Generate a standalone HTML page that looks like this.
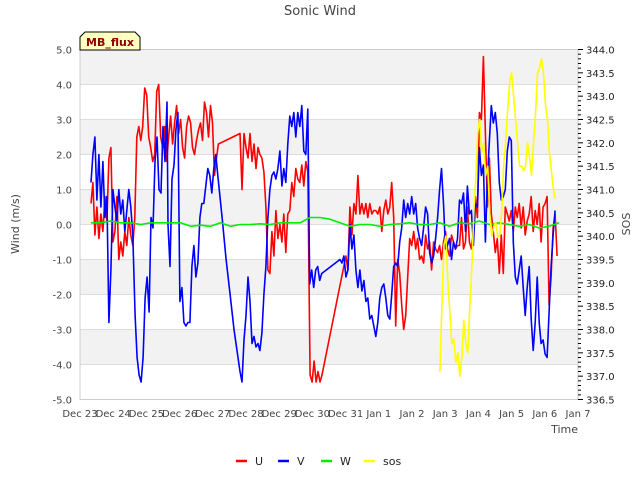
<!DOCTYPE html>
<html><head><meta charset="utf-8"><style>
body{margin:0;background:#fff;font-family:"DejaVu Sans","Liberation Sans",sans-serif}
svg text{font-family:"DejaVu Sans","Liberation Sans",sans-serif}
</style></head><body>
<svg id="chart" width="640" height="480">
<text x="320" y="15" text-anchor="middle" font-size="13" fill="#444">Sonic Wind</text>
<g id="bands"></g><g id="grid"></g>
<rect x="80" y="49.5" width="498" height="350" fill="none" stroke="#ccc"/>
<g id="series"></g><g id="axes"></g>
<text transform="translate(19,224) rotate(-90)" text-anchor="middle" font-size="11" fill="#444">Wind (m/s)</text>
<text transform="translate(630,224) rotate(-90)" text-anchor="middle" font-size="11" fill="#444">SOS</text>
<text x="578" y="433" text-anchor="end" font-size="11" fill="#444">Time</text>
<g>
<path d="M80,50 L80,37 L85,32 L135,32 L140,37 L140,50 Z" fill="#ffffc0" stroke="#000"/>
<text x="110" y="46" text-anchor="middle" font-size="11" font-weight="bold" fill="#8b0000">MB_flux</text></g>
<g id="legend"></g>
</svg>
<script>
const xTickLabels=["Dec 23","Dec 24","Dec 25","Dec 26","Dec 27","Dec 28","Dec 29","Dec 30","Dec 31","Jan 1","Jan 2","Jan 3","Jan 4","Jan 5","Jan 6","Jan 7"];
const yTicks=[-5,-4,-3,-2,-1,0,1,2,3,4,5];
const y2Ticks=[336.5,337,337.5,338,338.5,339,339.5,340,340.5,341,341.5,342,342.5,343,343.5,344];
const step=0.06;
const uSegments=[
[0.33,[0.6,1.2,-0.3,0.5,-0.4,0.3,-0.2,0.8,0.1,1.9,2.2,-0.5,-0.2,0.8,-1.0,-0.5,-0.9,-0.2,-0.6,0.2,-0.3,-0.6,0.2,2.5,2.8,2.4,2.8,3.9,3.7,2.5,2.2,1.8,2.0,3.8,4.0,2.5,2.2,2.8,1.8,2.5,3.1,2.3,2.9,3.4,2.6,3.0,2.2,1.9,2.8,3.1,2.9,2.2,2.0,2.4,2.7,2.9,2.4,3.5,3.2,2.5,3.4,2.9,1.4,1.9,2.3]],
[4.82,[2.6,1.0,2.6,2.2,1.9,2.6,1.8,2.3,1.6,2.2,2.0,1.9,1.5,0.5,-1.3,-1.4,-0.2,-0.9,0.4,-0.4,0.0,-0.5,0.3,-0.8,0.3,0.4,1.2,0.8,1.6,1.3,1.2,1.7,1.1,1.8,1.5]],
[6.93,[-4.3,-4.5,-3.9,-4.5,-4.2,-4.5,-4.3]],
[8.01,[-0.9,-1.3,0.5,-0.3,0.6,0.3,1.4,0.3,0.6,0.3,0.6,0.2,0.6,0.3,0.4,0.4,0.3,0.5,-0.2,0.4,0.7,0.3,0.5,1.2,0.2,-2.9,-1.0,-1.4,-2.3,-3.0,-2.6,-1.5,-0.4,-0.6,-0.2,-0.7,-0.4,-1.0,-0.9,-1.1,-0.3,-0.7,-0.5,-1.3,-0.5,-0.7,-0.8,-0.6,-1.0,-0.5,-0.2,-0.7,-0.9,-0.3,-0.5,-0.7,-0.6,-0.6,0.2,-0.7,-0.5,0.5,-0.5,-0.7,-0.2,0.8,0.2,3.2,3.0,4.8,2.6,0.5,1.9,0.3,-0.2,-0.8,-0.4,-1.4,-0.3,-1.4,0.5,0.3,0.1,0.4,-0.2,0.5,0.2,0.6,-0.1,0.5,-0.3,0.1,0.3,0.8,-0.2,0.4,0.0,0.6,-0.5,0.5,0.6,0.8,-2.3,-1.5,-0.1,0.3,-0.9]]];
const vSegments=[
[0.33,[1.2,2.0,2.5,0.7,2.0,0.5,1.8,0.2,0.8,-2.8,-1.3,1.0,0.5,0.1,1.0,0.3,0.7,-0.2,0.4,1.0,0.5,-0.3]],
[1.66,[-2.6,-3.8,-4.3,-4.5,-3.8,-2.1,-1.5,-2.5,0.2,-0.1,1.8,2.5,1.0,0.9,2.8,1.8,3.5]],
[2.65,[0.0,-1.2,1.3,1.7,2.7,3.2,-2.2,-1.8,-2.8,-2.9,-2.8,-2.8,-1.2,-0.6,-1.5,-1.1,0.2,0.6,0.6,1.1,1.6,1.4,0.9,1.6,2.0,1.4]],
[4.28,[0.2]],[4.40,[-1.0]],[4.52,[-2.0]],[4.64,[-3.0]],
[4.82,[-4.2,-4.5,-3.3,-2.6,-1.5,-2.2,-3.4,-3.2,-3.5,-3.4,-3.6,-3.1,-2.0,-1.2,0.2,1.0,1.4,1.5,1.3,1.6,2.1,1.1,1.6,1.2,2.3,3.1,2.8,3.2,2.5,3.2,2.8,3.4,2.1,2.0,3.3,-1.7,-1.3,-1.8,-1.3,-1.2,-1.6,-1.4]],
[7.83,[-1.0,-1.1,-0.9,-1.5,-1.3,0.0,-0.7,-0.3,-1.3,-1.8,-1.3,-1.9,-1.6,-2.2,-2.1,-2.7,-2.6,-2.9,-3.2,-2.8,-2.1,-1.8,-1.7,-2.1,-2.6,-2.7,-2.0,-1.2,-1.1,-1.2,-0.5,-0.1,0.7,0.2,0.6,0.3,0.8,0.3,0.6,-0.1,-0.4,-0.6,-0.1,0.5,0.3,-0.8,-1.1,-0.9,-0.4,0.2,1.0,1.6,0.6,-0.7,-0.6,-0.4,-1.0,-0.5,-0.7,-0.4,0.7,0.6,0.9,-0.2,1.1,0.3,0.4,-0.6,0.6,0.5,2.2,1.4,1.7,-0.5,1.3,2.4,3.4,2.9,3.2,2.6,1.2,0.7,0.8,1.0,2.1,2.5,2.4,-0.5,-1.5,-1.7,-1.3,-0.9,-1.8,-2.6,-1.8,-1.2,-2.7,-3.6,-2.8,-1.5,-2.8,-3.4,-3.3,-3.7,-3.8,-2.5,-1.2,-0.3,0.4]]];
const wStep=0.3;
const wSegments=[[0.33,[0.05,0.05,0.1,0.05,0.05,0,0.05,0.05,0.05,0.05,-0.05,-0.02,-0.05,0.05,-0.05,0,0,0.02,0,0.05,0.05,0.05,0.2,0.2,0.15,0.05,-0.05,0,0,-0.05,0,0.02,0.05,0,0,0.05,-0.05,0.05,0.02,0.1,0,0.05,0,-0.05,0,-0.1,-0.05,0.05]]];
const sosSegments=[[10.84,[337.1,338.5,339.8,340.0,339.0,338.4,337.7,337.8,337.3,337.5,337.0,337.4,338.2,337.7,337.5,338.5,339.3,340.5,341.2,342.2,342.5,341.8,342.0,341.3,341.5,340.5,340.0,340.2,340.3,340.0,340.0,340.5,341.5,342.0,342.7,343.3,343.5,343.0,342.5,342.0,341.5,341.5,341.4,341.5,342.0,341.7,341.3,342.0,342.6,343.5,343.6,343.8,343.5,342.8,342.5,341.8,341.4,341.0,340.8]]];

const NS="http://www.w3.org/2000/svg";
const X0=80,X1=578,YT=49.5,YB=399.5;
const xs=d=>X0+d*(X1-X0)/15;
const ys=v=>YB-(v+5)*(YB-YT)/10;
const ys2=v=>YB-(v-336.5)*(YB-YT)/7.5;
function mk(tag,attrs,parent){const e=document.createElementNS(NS,tag);for(const k in attrs)e.setAttribute(k,attrs[k]);parent.appendChild(e);return e;}
const bands=document.getElementById('bands'),grid=document.getElementById('grid'),axes=document.getElementById('axes'),series=document.getElementById('series'),legend=document.getElementById('legend');
for(let i=0;i<10;i++){ if(i%2===0){const r=mk('rect',{x:X0,y:ys(5-i),width:X1-X0,height:ys(4-i)-ys(5-i),fill:'#f2f2f2'},bands);

}}
yTicks.forEach(v=>{const l=mk('line',{x1:X0,x2:X1,y1:ys(v),y2:ys(v),stroke:'#ddd'},grid);


const t=mk('text',{x:X0-8,y:ys(v)+4,'text-anchor':'end','font-size':10,fill:'#444'},axes);t.textContent=v.toFixed(1);

});
for(let v=336.5;v<=344.001;v+=0.1){const major=Math.abs(v*2-Math.round(v*2))<0.01;
const l=mk('line',{x1:X1,x2:X1+(major?5:3),y1:ys2(v),y2:ys2(v),stroke:'#000'},axes);

}
y2Ticks.forEach(v=>{const t=mk('text',{x:X1+8,y:ys2(v)+4,'font-size':10,fill:'#222'},axes);t.textContent=v.toFixed(1);

});
xTickLabels.forEach((s,i)=>{const t=mk('text',{x:xs(i),y:417,'text-anchor':'middle','font-size':10,fill:'#444'},axes);t.textContent=s;

});
function draw(segs,st,yf,color,name){const pts=[];segs.forEach(([s,vals])=>vals.forEach((v,i)=>pts.push(xs(s+i*st).toFixed(1)+','+yf(v).toFixed(1))));
const p=mk('polyline',{points:pts.join(' '),fill:'none',stroke:color,'stroke-width':1.6,'stroke-linejoin':'round'},series);

}
draw(uSegments,step,ys,'#ff0000','series-u');
draw(vSegments,step,ys,'#0000ff','series-v');
draw(wSegments,wStep,ys,'#00ee00','series-w');
draw(sosSegments,step,ys2,'#ffff00','series-sos');
[['U','#ff0000',236],['V','#0000ff',278],['W','#00ee00',321],['sos','#ffff00',364]].forEach(([n,c,x])=>{
const g=mk('g',{},legend);


mk('line',{x1:x,x2:x+11,y1:461,y2:461,stroke:c,'stroke-width':2.5},g);
const t=mk('text',{x:x+19,y:465,'font-size':11,fill:'#222'},g);t.textContent=n;});
</script>
</body></html>
